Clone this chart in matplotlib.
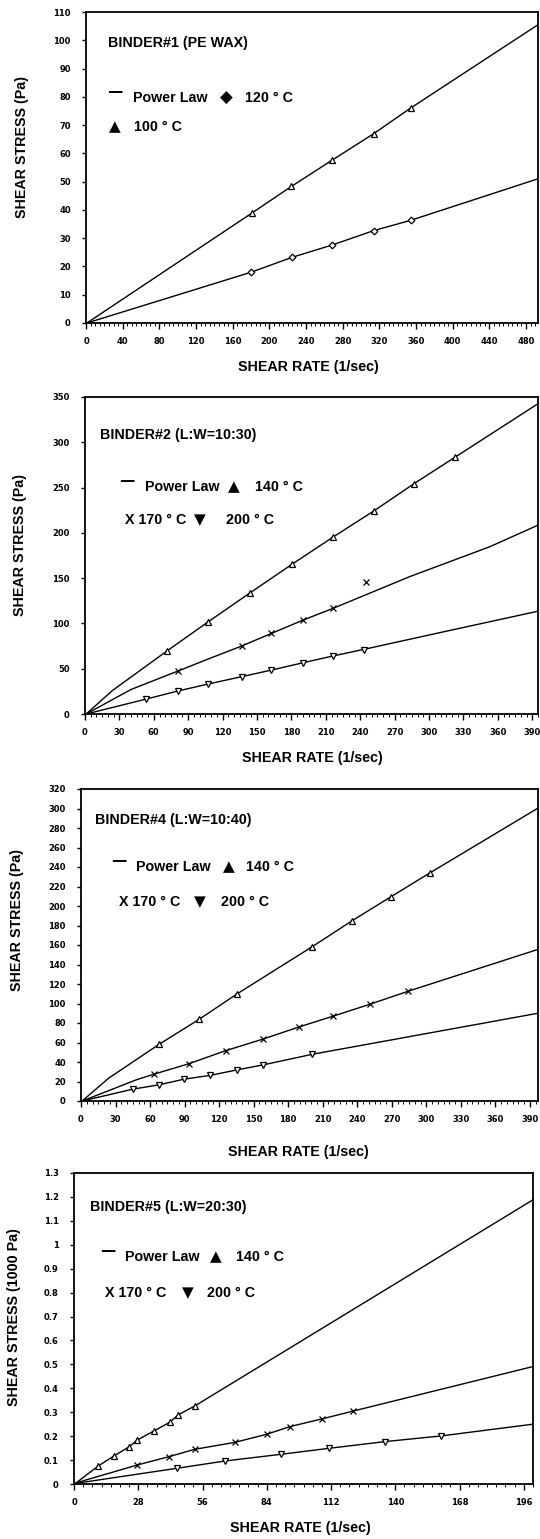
import matplotlib
matplotlib.use('Agg')
import matplotlib.pyplot as plt
from matplotlib.ticker import MultipleLocator, FuncFormatter

# ---------------- DATA ----------------
# Panel 1: BINDER#1 (PE WAX)
b1_100_x = [181, 224, 268, 314, 354]
b1_100_y = [38.9, 48.3, 57.5, 67.0, 76.0]
b1_120_x = [180.5, 224.5, 268.6, 314, 354]
b1_120_y = [18.0, 23.2, 27.6, 32.7, 36.3]
b1_fit100_x = [1, 181, 224, 268, 314, 354, 493]
b1_fit100_y = [0, 38.9, 48.3, 57.5, 67.0, 76.0, 105.5]
b1_fit120_x = [1, 180.5, 224.5, 268.6, 314, 354, 493]
b1_fit120_y = [0, 18.0, 23.2, 27.6, 32.7, 36.3, 51.0]

# Panel 2: BINDER#2 (L:W=10:30)
b2_140_x = [71.4, 107.4, 144, 180.6, 216.6, 252, 287, 323]
b2_140_y = [69.5, 101.8, 133.8, 165.4, 195.6, 224.3, 254.4, 283.8]
b2_170_x = [81, 136.5, 162.6, 190.2, 216, 245]
b2_170_y = [47.4, 75, 89, 103.7, 116.5, 146]
b2_200_x = [53.4, 81, 107.4, 136.5, 162.6, 190.2, 216, 243.6]
b2_200_y = [16.5, 25.4, 33.1, 41.2, 48.5, 56.6, 64, 70.6]
b2_fit140_x = [1, 24, 71.4, 107.4, 144, 180.6, 216.6, 252, 287, 323, 395]
b2_fit140_y = [0, 26, 69.5, 101.8, 133.8, 165.4, 195.6, 224.3, 254.4, 283.8, 342.6]
b2_fit170_x = [1, 40, 81, 110, 136.5, 162.6, 190.2, 216, 283, 353, 395]
b2_fit170_y = [0, 27, 47.4, 62, 75, 89, 103.7, 116.5, 151.6, 184.7, 208.5]
b2_fit200_x = [1, 53.4, 81, 107.4, 136.5, 162.6, 190.2, 216, 243.6, 310, 395]
b2_fit200_y = [0, 16.5, 25.4, 33.1, 41.2, 48.5, 56.6, 64, 71.5, 90, 113.5]

# Panel 3: BINDER#4 (L:W=10:40)
b4_140_x = [67.8, 102.4, 135.5, 200.9, 235, 269, 303.3]
b4_140_y = [58.1, 83.6, 109.8, 158.3, 184.5, 209.3, 234.1]
b4_170_x = [63.3, 93.4, 125.6, 158.1, 189.8, 219, 250.9, 284]
b4_170_y = [27.5, 38.1, 51.6, 63.5, 76.1, 87, 99.2, 112.5]
b4_200_x = [45.2, 67.8, 89.5, 112, 135.5, 158.1, 200.9]
b4_200_y = [12.2, 16.6, 22.4, 26.2, 31.9, 37, 47.9]
b4_fit140_x = [1, 24, 67.8, 102.4, 135.5, 200.9, 235, 269, 303.3, 397]
b4_fit140_y = [0, 23.4, 58.1, 83.6, 109.8, 158.3, 184.5, 209.3, 234.1, 300.4]
b4_fit170_x = [1, 48, 63.3, 93.4, 125.6, 158.1, 189.8, 219, 250.9, 284, 397]
b4_fit170_y = [0, 21.7, 27.5, 38.1, 51.6, 63.5, 76.1, 87, 99.2, 112.5, 155.5]
b4_fit200_x = [1, 45.2, 67.8, 89.5, 112, 135.5, 158.1, 200.9, 397]
b4_fit200_y = [0, 12.2, 16.6, 22.4, 26.2, 31.9, 37, 47.9, 90]

# Panel 4: BINDER#5 (L:W=20:30)  (stress in 1000 Pa)
b5_140_x = [10.5, 17.4, 24.1, 27.6, 34.9, 41.7, 45.4, 52.6]
b5_140_y = [0.075, 0.117, 0.156, 0.184, 0.222, 0.258, 0.289, 0.326]
b5_170_x = [27.6, 41.3, 52.6, 70.1, 84, 94.1, 108, 121.7]
b5_170_y = [0.0795, 0.114, 0.145, 0.174, 0.208, 0.240, 0.272, 0.305]
b5_200_x = [44.8, 65.8, 90.1, 111, 135.3, 160]
b5_200_y = [0.0656, 0.0962, 0.124, 0.149, 0.177, 0.201]
b5_fit140_x = [1, 10.5, 17.4, 24.1, 27.6, 34.9, 41.7, 45.4, 52.6, 200]
b5_fit140_y = [0.005, 0.075, 0.117, 0.156, 0.184, 0.222, 0.258, 0.289, 0.326, 1.188]
b5_fit170_x = [1, 27.6, 41.3, 52.6, 70.1, 84, 94.1, 108, 121.7, 200]
b5_fit170_y = [0.005, 0.0795, 0.114, 0.145, 0.174, 0.208, 0.240, 0.272, 0.305, 0.491]
b5_fit200_x = [1, 44.8, 65.8, 90.1, 111, 135.3, 160, 200]
b5_fit200_y = [0.003, 0.0656, 0.0962, 0.124, 0.149, 0.177, 0.201, 0.250]

titles = ["BINDER#1 (PE WAX)", "BINDER#2 (L:W=10:30)",
          "BINDER#4 (L:W=10:40)", "BINDER#5 (L:W=20:30)"]
ylabels = ["SHEAR STRESS (Pa)", "SHEAR STRESS (Pa)",
           "SHEAR STRESS (Pa)", "SHEAR STRESS (1000 Pa)"]
xlabel = "SHEAR RATE (1/sec)"

# ---------------- STYLE ----------------
FONT = ['Liberation Sans', 'DejaVu Sans']
SYM = ['DejaVu Sans']
plt.rcParams['font.family'] = FONT
TXT = 10.3
W, H = 540, 1539

fig = plt.figure(figsize=(W / 100, H / 100), dpi=100)
fig.patch.set_facecolor('white')


def make_axes(left, right, top, bottom):
    return fig.add_axes([left / W, 1 - bottom / H, (right - left) / W, (bottom - top) / H])


def style_axes(ax, xmax, xmajor, xminor, ymax, ymajor):
    ax.set_xlim(0, xmax)
    ax.set_ylim(0, ymax)
    ax.xaxis.set_major_locator(MultipleLocator(xmajor))
    ax.xaxis.set_minor_locator(MultipleLocator(xminor))
    ax.yaxis.set_major_locator(MultipleLocator(ymajor))
    ax.yaxis.set_major_formatter(FuncFormatter(lambda v, p: f"{round(v, 3):g}"))
    ax.tick_params(axis='x', which='major', direction='out', length=4, width=1.0,
                   labelsize=6, pad=6)
    ax.tick_params(axis='x', which='minor', direction='out', length=2, width=0.7)
    ax.tick_params(axis='y', which='major', direction='out', length=3, width=1.0,
                   labelsize=6, pad=8)
    for lab in ax.get_xticklabels() + ax.get_yticklabels():
        lab.set_fontfamily('DejaVu Sans')
        lab.set_fontweight('bold')
    for s in ax.spines.values():
        s.set_linewidth(1.3)
        s.set_color('black')


def fit_line(ax, x, y):
    ax.plot(x, y, color='black', lw=1.0, zorder=2)


def points(ax, x, y, marker, ms=4.5):
    if marker == 'x':
        ax.plot(x, y, ls='none', marker='x', ms=ms, mec='black', mew=0.9, zorder=3)
    else:
        ax.plot(x, y, ls='none', marker=marker, ms=ms, mfc='white', mec='black',
                mew=0.9, zorder=3)


def put(ax, x, y, s, size=TXT, fam=FONT):
    ax.text(x, y, s, transform=ax.transAxes, ha='left', va='center',
            fontsize=size, family=fam, fontweight='bold', color='black')


DASH = 11
SYMSZ = 11

# ---------------- PANEL 1 ----------------
ax1 = make_axes(86, 538, 12, 323)
style_axes(ax1, 493, 40, 5, 110, 10)
fit_line(ax1, b1_fit100_x, b1_fit100_y)
fit_line(ax1, b1_fit120_x, b1_fit120_y)
points(ax1, b1_100_x, b1_100_y, '^')
points(ax1, b1_120_x, b1_120_y, 'D', ms=3.4)
put(ax1, 0.049, 0.90, titles[0])
put(ax1, 0.046, 0.745, "\u2014", DASH, SYM)
put(ax1, 0.104, 0.723, "Power Law")
put(ax1, 0.296, 0.723, "\u25C6", 12, SYM)
put(ax1, 0.352, 0.723, "120 \u00b0 C")
put(ax1, 0.050, 0.630, "\u25B2", SYMSZ, SYM)
put(ax1, 0.107, 0.630, "100 \u00b0 C")

# ---------------- PANEL 2 ----------------
ax2 = make_axes(85, 538, 397, 714)
style_axes(ax2, 395, 30, 5, 350, 50)
fit_line(ax2, b2_fit140_x, b2_fit140_y)
fit_line(ax2, b2_fit170_x, b2_fit170_y)
fit_line(ax2, b2_fit200_x, b2_fit200_y)
points(ax2, b2_140_x, b2_140_y, '^')
points(ax2, b2_170_x, b2_170_y, 'x')
points(ax2, b2_200_x, b2_200_y, 'v')
put(ax2, 0.033, 0.880, titles[1])
put(ax2, 0.076, 0.738, "\u2014", DASH, SYM)
put(ax2, 0.132, 0.717, "Power Law")
put(ax2, 0.316, 0.717, "\u25B2", SYMSZ, SYM)
put(ax2, 0.376, 0.717, "140 \u00b0 C")
put(ax2, 0.088, 0.612, "X 170 \u00b0 C")
put(ax2, 0.240, 0.612, "\u25BC", SYMSZ, SYM)
put(ax2, 0.311, 0.612, "200 \u00b0 C")

# ---------------- PANEL 3 ----------------
ax3 = make_axes(81, 538, 789, 1101)
style_axes(ax3, 397, 30, 5, 320, 20)
fit_line(ax3, b4_fit140_x, b4_fit140_y)
fit_line(ax3, b4_fit170_x, b4_fit170_y)
fit_line(ax3, b4_fit200_x, b4_fit200_y)
points(ax3, b4_140_x, b4_140_y, '^')
points(ax3, b4_170_x, b4_170_y, 'x')
points(ax3, b4_200_x, b4_200_y, 'v')
put(ax3, 0.031, 0.90, titles[2])
put(ax3, 0.065, 0.772, "\u2014", DASH, SYM)
put(ax3, 0.120, 0.751, "Power Law")
put(ax3, 0.310, 0.751, "\u25B2", SYMSZ, SYM)
put(ax3, 0.362, 0.751, "140 \u00b0 C")
put(ax3, 0.083, 0.639, "X 170 \u00b0 C")
put(ax3, 0.248, 0.639, "\u25BC", SYMSZ, SYM)
put(ax3, 0.306, 0.639, "200 \u00b0 C")

# ---------------- PANEL 4 ----------------
ax4 = make_axes(74, 533, 1173, 1484)
style_axes(ax4, 200, 28, 4, 1.3, 0.1)
fit_line(ax4, b5_fit140_x, b5_fit140_y)
fit_line(ax4, b5_fit170_x, b5_fit170_y)
fit_line(ax4, b5_fit200_x, b5_fit200_y)
points(ax4, b5_140_x, b5_140_y, '^')
points(ax4, b5_170_x, b5_170_y, 'x')
points(ax4, b5_200_x, b5_200_y, 'v')
put(ax4, 0.035, 0.892, titles[3])
put(ax4, 0.056, 0.752, "\u2014", DASH, SYM)
put(ax4, 0.111, 0.731, "Power Law")
put(ax4, 0.297, 0.731, "\u25B2", SYMSZ, SYM)
put(ax4, 0.354, 0.731, "140 \u00b0 C")
put(ax4, 0.068, 0.614, "X 170 \u00b0 C")
put(ax4, 0.236, 0.614, "\u25BC", SYMSZ, SYM)
put(ax4, 0.290, 0.614, "200 \u00b0 C")

# ---------------- AXIS LABELS ----------------
ylab_pos = [(22, 147), (20, 545), (17, 920), (14, 1317)]
xlab_pos = [(308, 367), (312, 758), (298, 1152), (300, 1528)]
for i in range(4):
    xp, yp = ylab_pos[i]
    fig.text(xp / W, 1 - yp / H, ylabels[i], rotation=90, ha='center', va='center',
             fontsize=TXT, fontweight='bold')
    xp, yp = xlab_pos[i]
    fig.text(xp / W, 1 - yp / H, xlabel, ha='center', va='center', fontsize=TXT,
             fontweight='bold')

fig.savefig('out.png', dpi=100, facecolor='white')
